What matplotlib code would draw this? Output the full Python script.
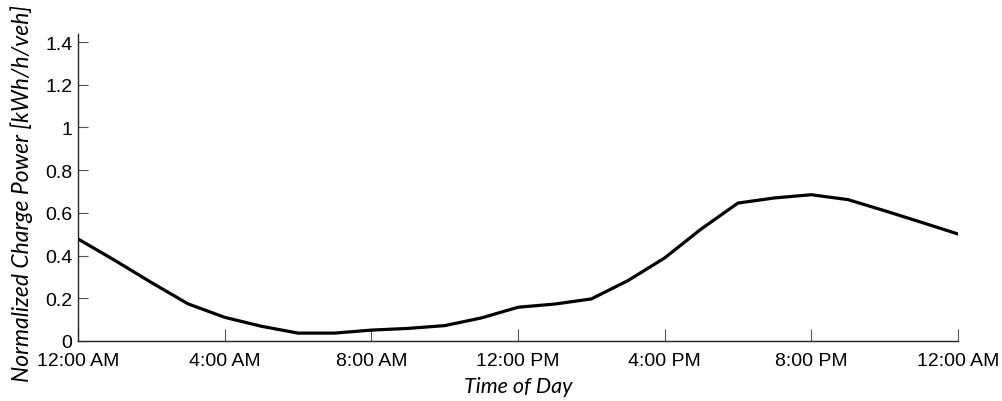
import matplotlib.pyplot as plt
import numpy as np

# hourly normalized charge power, midnight to midnight
hours = np.arange(0, 25)
power = [0.478, 0.378, 0.274, 0.174, 0.111, 0.069, 0.037, 0.037, 0.051, 0.059,
         0.072, 0.108, 0.158, 0.173, 0.197, 0.283, 0.389, 0.525, 0.646, 0.670,
         0.685, 0.662, 0.610, 0.556, 0.501]

tick_hours = [0, 4, 8, 12, 16, 20, 24]
tick_labels = ['12:00 AM', '4:00 AM', '8:00 AM', '12:00 PM', '4:00 PM', '8:00 PM', '12:00 AM']
y_ticks = [0, 0.2, 0.4, 0.6, 0.8, 1, 1.2, 1.4]

plt.rcParams['font.family'] = 'Liberation Sans'

fig = plt.figure(figsize=(10.03, 4.02), dpi=100)
ax = fig.add_axes([78 / 1003, 60 / 402, 880 / 1003, 307.5 / 402])

ax.plot(hours, power, color='black', linewidth=2.3, solid_joinstyle='round')

ax.set_xlim(0, 24)
ax.set_ylim(0, 1.44)
ax.set_xticks(tick_hours)
ax.set_xticklabels(tick_labels)
ax.set_yticks(y_ticks)
ax.set_yticklabels(['0', '0.2', '0.4', '0.6', '0.8', '1', '1.2', '1.4'])

for s in ['top', 'right']:
    ax.spines[s].set_visible(False)
for s in ['left', 'bottom']:
    ax.spines[s].set_linewidth(1.0)
    ax.spines[s].set_color('#222222')

ax.tick_params(axis='x', direction='in', length=9, width=0.8, color='#555555',
               labelsize=14, pad=8)
ax.tick_params(axis='y', direction='in', length=7, width=0.8, color='#555555',
               labelsize=14, pad=4)

ax.set_xlabel('Time of Day', family='Lato', style='italic', fontsize=15.5, va='center')
ax.xaxis.set_label_coords(0.5, (342 - 387) / 307.5)
ax.set_ylabel('Normalized Charge Power [kWh/h/veh]', family='Lato', style='italic',
              fontsize=16.5, va='center')
ax.yaxis.set_label_coords((22 - 78) / 880, (342 - 194) / 307.5)

fig.savefig('out.png', dpi=100)
